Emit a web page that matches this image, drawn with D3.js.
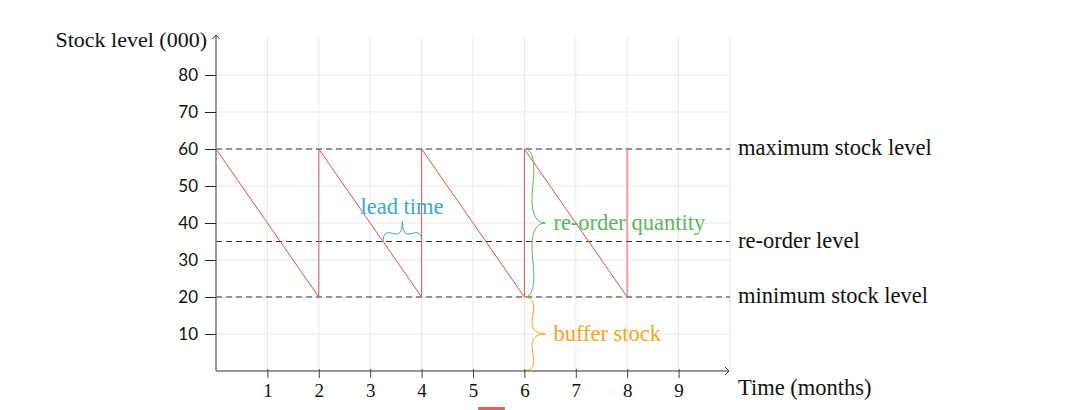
<!DOCTYPE html>
<html>
<head>
<meta charset="utf-8">
<script src="https://cdn.jsdelivr.net/npm/d3@7"></script>
<style>
body { margin: 0; background: #fff; }
</style>
</head>
<body>
<svg id="chart" width="1068" height="410"></svg>
<script>
// stock pattern (months, thousands)
var months = [0, 2, 2, 4, 4, 6, 6, 8, 8]
var stock = [60, 20, 60, 20, 60, 20, 60, 20, 60]
var levels = [60, 35, 20]
var levelNames = ["maximum stock level", "re-order level", "minimum stock level"]
var xTicks = [1, 2, 3, 4, 5, 6, 7, 8, 9]
var yTicks = [10, 20, 30, 40, 50, 60, 70, 80]

var dimensions = {
    width: 1068,
    height: 410,
    margin: { top: 38, bottom: 39, left: 216, right: 338 }
}

var serif = "'Liberation Serif', 'DejaVu Serif', serif"
var sans = "Lato, 'Noto Sans', sans-serif"

var svg = d3.select("#chart")

var xScale = d3.scaleLinear()
    .domain([0, 10])
    .range([dimensions.margin.left, dimensions.width - dimensions.margin.right])

var yScale = d3.scaleLinear()
    .domain([0, 90])
    .range([dimensions.height - dimensions.margin.bottom, dimensions.margin.top])

var x0 = xScale(0), y0 = yScale(0)

// grid
var grid = svg.append("g").attr("stroke", "#e8e8e8").attr("stroke-width", 1)
grid.selectAll(".vg").data(xTicks.concat([10])).enter().append("line")
    .attr("x1", d => xScale(d)).attr("x2", d => xScale(d))
    .attr("y1", yScale(0)).attr("y2", yScale(90))
grid.selectAll(".hg").data(yTicks).enter().append("line")
    .attr("x1", xScale(0)).attr("x2", xScale(10))
    .attr("y1", d => yScale(d)).attr("y2", d => yScale(d))

// dashed levels
svg.append("g").selectAll("line").data(levels).enter().append("line")
    .attr("x1", xScale(0)).attr("x2", xScale(10))
    .attr("y1", d => yScale(d)).attr("y2", d => yScale(d))
    .attr("stroke", "#333").attr("stroke-width", 1)
    .attr("stroke-dasharray", "6,4")

svg.append("g").selectAll("text").data(levels).enter().append("text")
    .attr("x", xScale(10) + 8)
    .attr("y", d => yScale(d) + 6)
    .style("font-family", serif).style("font-size", "22.5px")
    .attr("fill", "#111")
    .text((d, i) => levelNames[i])

// sawtooth
var pts = months.map((m, i) => [m, stock[i]])
svg.append("path")
    .datum(pts.slice(0, 8))
    .attr("d", d3.line().x(d => xScale(d[0])).y(d => yScale(d[1])))
    .attr("fill", "none").attr("stroke", "#ee5050").attr("stroke-width", 1)
svg.append("path")
    .datum(pts.slice(7))
    .attr("d", d3.line().x(d => xScale(d[0])).y(d => yScale(d[1])))
    .attr("fill", "none").attr("stroke", "#ee5050").attr("stroke-width", 2).attr("opacity", 0.5)

// braces
function curlyBrace(x1, y1, x2, y2, w, q) {
    var dx = x1 - x2, dy = y1 - y2, len = Math.sqrt(dx * dx + dy * dy)
    dx /= len; dy /= len
    var qx1 = x1 + q * w * dy, qy1 = y1 - q * w * dx
    var qx2 = (x1 - .25 * len * dx) + (1 - q) * w * dy, qy2 = (y1 - .25 * len * dy) - (1 - q) * w * dx
    var tx1 = (x1 - .5 * len * dx) + w * dy, ty1 = (y1 - .5 * len * dy) - w * dx
    var qx3 = x2 + q * w * dy, qy3 = y2 - q * w * dx
    var qx4 = (x1 - .75 * len * dx) + (1 - q) * w * dy, qy4 = (y1 - .75 * len * dy) - (1 - q) * w * dx
    return "M" + x1 + " " + y1 + " Q" + qx1 + " " + qy1 + " " + qx2 + " " + qy2 + " T" + tx1 + " " + ty1 +
        " M" + x2 + " " + y2 + " Q" + qx3 + " " + qy3 + " " + qx4 + " " + qy4 + " T" + tx1 + " " + ty1
}

var blue = "#3aa8e0", green = "#5cb85c", orange = "#f5a623"

svg.append("path")
    .attr("d", curlyBrace(xScale(4), yScale(35), xScale(3.25), yScale(35), 20, 0.6))
    .attr("fill", "none").attr("stroke", blue).attr("stroke-width", 1)
svg.append("text")
    .attr("x", xScale(3.62)).attr("y", yScale(42.3))
    .attr("text-anchor", "middle").style("font-family", serif).style("font-size", "22.5px").attr("fill", blue)
    .text("lead time")

svg.append("path")
    .attr("d", curlyBrace(xScale(6), yScale(20), xScale(6), yScale(60), 21, 0.6))
    .attr("fill", "none").attr("stroke", green).attr("stroke-width", 1)
svg.append("text")
    .attr("x", xScale(6) + 29).attr("y", yScale(40) + 7)
    .style("font-family", serif).style("font-size", "22.5px").attr("fill", green)
    .text("re-order quantity")

svg.append("path")
    .attr("d", curlyBrace(xScale(6), yScale(0), xScale(6), yScale(20), 21, 0.6))
    .attr("fill", "none").attr("stroke", orange).attr("stroke-width", 1)
svg.append("text")
    .attr("x", xScale(6) + 29).attr("y", yScale(10) + 7)
    .style("font-family", serif).style("font-size", "22.5px").attr("fill", orange)
    .text("buffer stock")

// axes
var axisColor = "#777"
svg.append("line").attr("x1", x0).attr("x2", x0).attr("y1", y0).attr("y2", yScale(90) - 3)
    .attr("stroke", axisColor).attr("stroke-width", 1.5)
svg.append("line").attr("x1", x0).attr("x2", xScale(10) - 2).attr("y1", y0).attr("y2", y0)
    .attr("stroke", axisColor).attr("stroke-width", 1.5)
svg.append("path")
    .attr("d", "M" + (x0 - 3.5) + "," + (yScale(90) + 1) + " L" + x0 + "," + (yScale(90) - 3) + " L" + (x0 + 3.5) + "," + (yScale(90) + 1))
    .attr("fill", "none").attr("stroke", "#333").attr("stroke-width", 1)
svg.append("path")
    .attr("d", "M" + (xScale(10) - 5) + "," + (y0 - 4) + " L" + (xScale(10) - 1) + "," + y0 + " L" + (xScale(10) - 5) + "," + (y0 + 4))
    .attr("fill", "none").attr("stroke", "#333").attr("stroke-width", 1)

var yAxis = svg.append("g")
    .attr("transform", "translate(" + x0 + ",0)")
    .call(d3.axisLeft(yScale).tickValues(yTicks).tickSize(11).tickPadding(7))
yAxis.select(".domain").remove()
yAxis.selectAll(".tick line").attr("stroke", "#222")
yAxis.selectAll("text").style("font-family", sans).style("font-size", "17px").attr("fill", "#111")

var xAxis = svg.append("g")
    .attr("transform", "translate(0," + y0 + ")")
    .call(d3.axisBottom(xScale).tickValues(xTicks).tickSize(7).tickPadding(6))
xAxis.select(".domain").remove()
xAxis.selectAll(".tick line").attr("stroke", "#444").attr("y1", -2)
xAxis.selectAll("text").style("font-family", serif).style("font-size", "19px").attr("fill", "#111")

svg.append("text")
    .attr("x", x0 - 9).attr("y", yScale(90) + 9)
    .attr("text-anchor", "end").style("font-family", serif).style("font-size", "22px").attr("fill", "#111")
    .text("Stock level (000)")
svg.append("text")
    .attr("x", xScale(10) + 8).attr("y", y0 + 24)
    .style("font-family", serif).style("font-size", "22.5px").attr("fill", "#111")
    .text("Time (months)")

// legend swatch (cut off at bottom)
svg.append("line")
    .attr("x1", xScale(5.1)).attr("x2", xScale(5.62))
    .attr("y1", dimensions.height - 1.5).attr("y2", dimensions.height - 1.5)
    .attr("stroke", "#e06060").attr("stroke-width", 3)
</script>
</body>
</html>
